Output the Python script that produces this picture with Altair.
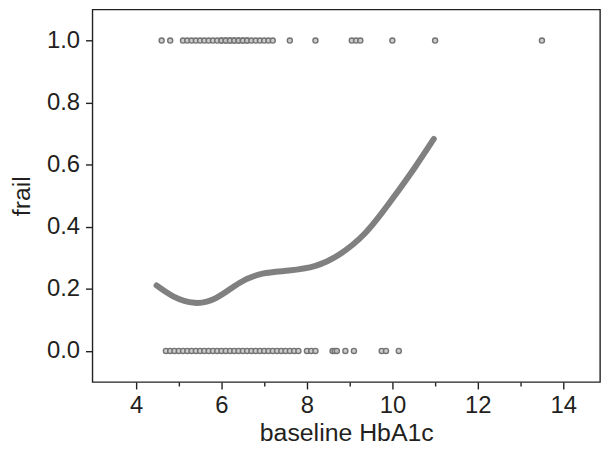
import altair as alt
import pandas as pd

# Observed HbA1c values, frail = 1 (top row)
frail1_x = [4.6, 4.8, 5.1, 5.2, 5.3, 5.4, 5.5, 5.6, 5.7, 5.8, 5.9, 6.0, 6.0, 6.1, 6.1,
            6.2, 6.2, 6.3, 6.3, 6.4, 6.4, 6.5, 6.5, 6.6, 6.6, 6.7, 6.8, 6.9, 7.0, 7.1,
            7.2, 7.6, 8.2, 9.05, 9.15, 9.25, 10.0, 11.0, 13.5]
# Observed HbA1c values, frail = 0 (bottom row)
frail0_x = [4.7, 4.8, 4.9, 5.0, 5.1, 5.2, 5.3, 5.4, 5.5, 5.6, 5.7, 5.8, 5.9, 6.0, 6.1,
            6.2, 6.3, 6.4, 6.5, 6.6, 6.7, 6.8, 6.9, 7.0, 7.1, 7.2, 7.3, 7.4, 7.5, 7.6,
            7.7, 7.8, 8.0, 8.1, 8.2, 8.6, 8.65, 8.7, 8.9, 9.1, 9.75, 9.85, 10.15]
# Smoothed fit
curve_x = [4.48, 4.87, 5.37, 5.88, 6.42, 6.96, 7.58, 8.20, 8.74, 9.36, 9.98, 10.53, 10.97]
curve_y = [0.211, 0.176, 0.155, 0.171, 0.219, 0.249, 0.259, 0.274, 0.309, 0.379, 0.486, 0.592, 0.683]

y_ticks = [round(0.1 * i, 1) for i in range(0, 11)]
x_ticks = list(range(4, 15))

pts = pd.DataFrame({
    "hba1c": frail1_x + frail0_x,
    "frail": [1.0] * len(frail1_x) + [0.0] * len(frail0_x),
})
fit = pd.DataFrame({"hba1c": curve_x, "frail": curve_y})

FONT = "Liberation Sans"
TXT = "#231f20"

xscale = alt.Scale(domain=[2.98, 14.86], nice=False, zero=False)
yscale = alt.Scale(domain=[-0.1, 1.1], nice=False, zero=False)

xaxis = alt.Axis(
    values=x_ticks,
    labelExpr="datum.value % 2 === 0 ? datum.label : ''",
    tickSize={"condition": {"test": "datum.value % 2 === 0", "value": 7}, "value": 4},
    grid=False, domain=False, tickColor="#222", tickWidth=1.4,
    labelFont=FONT, labelFontSize=24, labelColor=TXT, labelPadding=5,
    title="baseline HbA1c", titleFont=FONT, titleFontSize=25, titleFontWeight="normal",
    titleColor=TXT, titlePadding=3,
)
yaxis = alt.Axis(
    values=y_ticks,
    labelExpr="round(datum.value * 10) % 2 === 0 ? format(datum.value, '.1f') : ''",
    tickSize={"condition": {"test": "round(datum.value * 10) % 2 === 0", "value": 7}, "value": 4},
    grid=False, domain=False, tickColor="#222", tickWidth=1.4,
    labelFont=FONT, labelFontSize=24, labelColor=TXT, labelPadding=6,
    title="frail", titleFont=FONT, titleFontSize=25, titleFontWeight="normal",
    titleColor=TXT, titlePadding=12,
)

points = alt.Chart(pts).mark_point(
    shape="circle", filled=False, size=26, stroke="#737373", strokeWidth=1.4,
    fill="#c4c4c4", fillOpacity=0.85, clip=True,
).encode(
    x=alt.X("hba1c:Q", scale=xscale, axis=xaxis),
    y=alt.Y("frail:Q", scale=yscale, axis=yaxis),
)

line = alt.Chart(fit).mark_line(
    color="#808080", strokeWidth=6, interpolate="natural", strokeCap="round",
).encode(
    x=alt.X("hba1c:Q", scale=xscale),
    y=alt.Y("frail:Q", scale=yscale),
)

chart = alt.layer(points, line).properties(
    width=511, height=375,
    autosize=alt.AutoSizeParams(type="none"),
    padding={"left": 85, "top": 0, "right": 5, "bottom": 75},
    background="white",
).configure_view(stroke="#222", strokeWidth=1.4)

chart.save("out.html", embed_options={"renderer": "svg", "actions": False})
